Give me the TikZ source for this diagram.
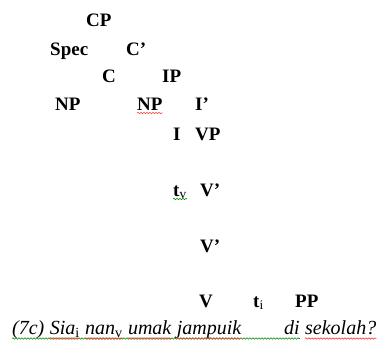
\documentclass[tikz,border=0pt]{standalone}
\usepackage{fontspec}
\setmainfont{Liberation Serif}
\usetikzlibrary{positioning,decorations.pathmorphing}

\begin{document}
\begin{tikzpicture}[x=1pt, y=-1pt,
	cat/.style = { inner sep=0pt, anchor=base west,
			font=\fontsize{19}{21}\selectfont\bfseries },
	word/.style = { inner sep=0pt, anchor=base west,
			font=\fontsize{20}{22}\selectfont\itshape },
	squiggle/.style = { decorate, line width=0.6pt,
			decoration={snake, segment length=3pt, amplitude=0.7pt} },
	redwave/.style = { squiggle, draw=red!75 },
	greenwave/.style = { squiggle, draw=green!55!black }]

  \useasboundingbox (0,0) rectangle (377,340);

  % the tree labels, no branches
  \node[name=cp, cat] at (86,27) {CP};
  \node[name=spec, cat] at (50,55) {Spec};
  \node[name=cbar, cat] at (126,55) {C’};
  \node[name=c, cat] at (102,82) {C};
  \node[name=ip, cat] at (162,82) {IP};
  \node[name=np1, cat] at (55,110) {NP};
  \node[name=np2, cat] at (137,110) {NP};
  \node[name=ibar, cat] at (195,110) {I’};
  \node[name=i, cat] at (173,140) {I};
  \node[name=vp, cat] at (195,140) {VP};
  \node[name=tv, cat] at (173,196) {t\textsubscript{\mdseries v}};
  \node[name=vbar1, cat] at (200,196) {V’};
  \node[name=vbar2, cat] at (200,252) {V’};
  \node[name=v, cat] at (199,307) {V};
  \node[name=ti, cat] at (253,307) {t\textsubscript{\mdseries i}};
  \node[name=pp, cat] at (295,307) {PP};

  \draw[redwave] ([yshift=-3pt]np2.base west) -- ([yshift=-3pt]np2.base east);
  \draw[greenwave] ([yshift=-3pt]tv.base west) -- ([yshift=-3pt]tv.base east);

  % the example sentence
  \node[name=w1, word] at (12,334) {(7c)};
  \node[name=w2, word, right=5pt of w1.base east, anchor=base west]
	{Sia\textsubscript{\upshape i}};
  \node[name=w3, word, right=5pt of w2.base east, anchor=base west]
	{nan\textsubscript{\upshape v}};
  \node[name=w4, word, right=5pt of w3.base east, anchor=base west] {umak};
  \node[name=w5, word, right=5pt of w4.base east, anchor=base west] {jampuik};
  \node[name=w6, word] at (284,334) {di};
  \node[name=w7, word, right=5pt of w6.base east, anchor=base west] {sekolah?};

  \draw[greenwave] ([yshift=-4.5pt]w1.base west) -- ([yshift=-4.5pt]w6.base east);
  \foreach \w in {w2,w3,w4,w5,w7}
    \draw[redwave] ([yshift=-4.5pt]\w.base west) -- ([yshift=-4.5pt]\w.base east);
\end{tikzpicture}
\end{document}
